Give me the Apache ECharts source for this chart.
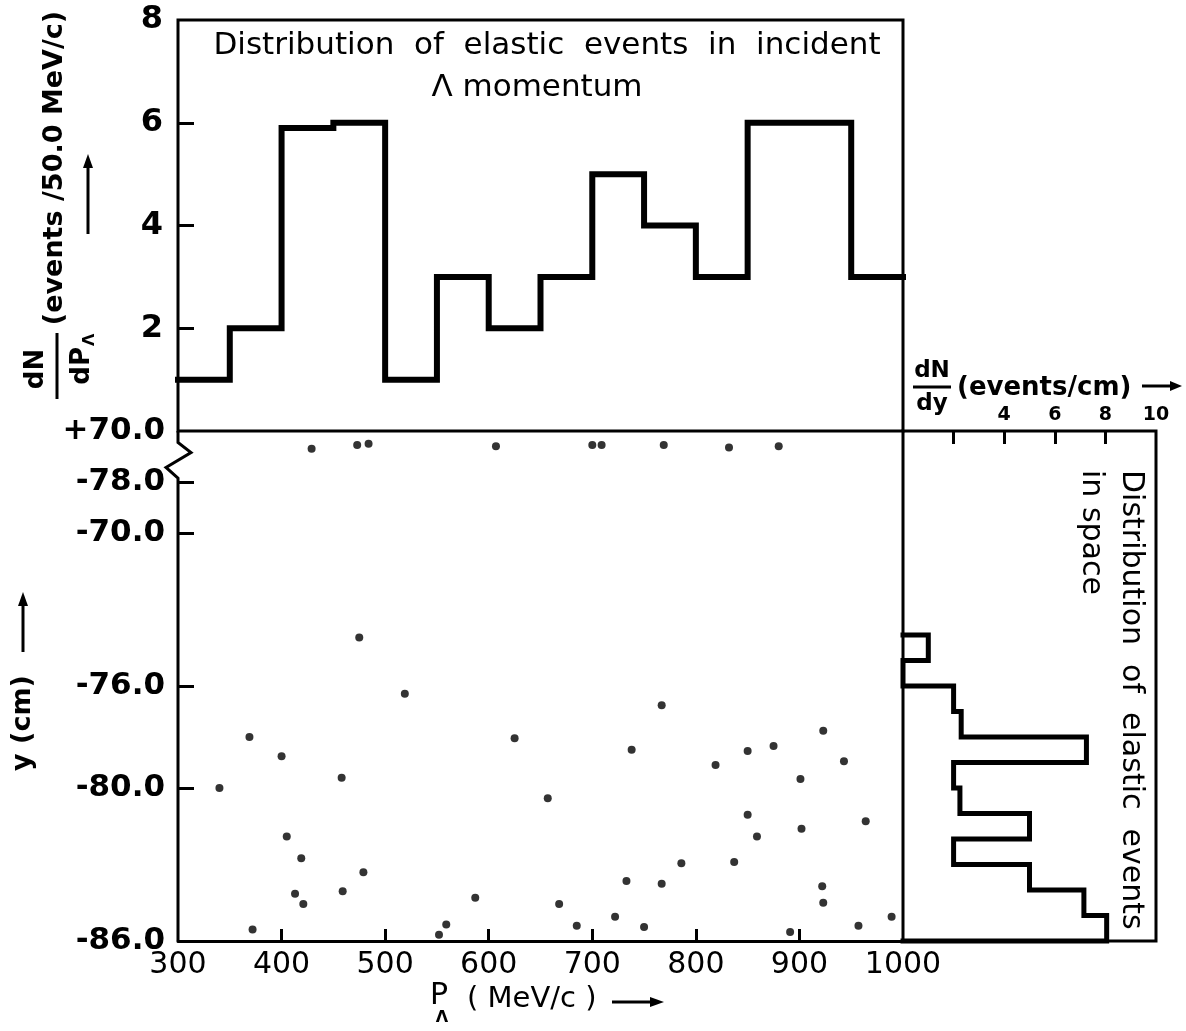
<!DOCTYPE html>
<html>
<head>
<meta charset="utf-8">
<title>Distribution of elastic events</title>
<script src="https://cdn.jsdelivr.net/npm/echarts@6/dist/echarts.min.js"></script>
<style>
  html, body { margin: 0; padding: 0; background: #fff; }
  #chart { width: 1186px; height: 1031px; }
</style>
</head>
<body>
<div id="chart"></div>
<script>
// incident momentum histogram, 50 MeV/c bins
const momentumEdges = [300, 350, 400, 450, 500, 550, 600, 650, 700, 750, 800, 850, 900, 950, 1000];
const momentumCounts = [1, 2, 5.9, 6, 1, 3, 2, 3, 5, 4, 3, 6, 6, 3];

// spatial histogram (events/cm), 1 cm bins going down from -74
const spaceEdges = [-74, -75, -76, -77, -78, -79, -80, -81, -82, -83, -84, -85, -86];
const spaceCounts = [1, 0, 2, 2.3, 7.25, 2, 2.25, 5, 2, 5, 7.15, 8.05];

// single events: momentum (MeV/c) and y (cm, plotted scale; top row sits above the break)
const eventP = [
  429, 473, 484, 607, 700, 709, 769, 832, 880,
  475, 519, 767, 340, 369, 400, 458, 625, 738, 819, 850, 875, 923, 943, 901,
  657, 850, 964, 902, 859, 405, 419, 479, 786, 837, 733, 767, 922, 413, 459,
  421, 587, 668, 923, 722, 989, 372, 559, 552, 685, 750, 891, 957
];
const eventY = [
  -66.7, -66.55, -66.5, -66.6, -66.55, -66.55, -66.55, -66.65, -66.6,
  -74.1, -76.3, -76.75, -80.0, -78.0, -78.75, -79.6, -78.05, -78.5, -79.1, -78.55, -78.35, -77.75, -78.95, -79.65,
  -80.4, -81.05, -81.3, -81.6, -81.9, -81.9, -82.75, -83.3, -82.95, -82.9, -83.65, -83.75, -83.85, -84.15, -84.05,
  -84.55, -84.3, -84.55, -84.5, -85.05, -85.05, -85.55, -85.35, -85.75, -85.4, -85.45, -85.65, -85.4
];

// axis ticks and labels as printed
const pLabels = [300, 400, 500, 600, 700, 800, 900, 1000];
const pTicks = [400, 500, 600, 700, 800, 900];
const rateLabels = [2, 4, 6, 8];
const rateTicks = [2, 4, 6];
const yValues = [-86, -80, -76, -70, -68, -66];
const yLabels = ["-86.0", "-80.0", "-76.0", "-70.0", "-78.0", "+70.0"];
const yTicks = [-80, -76, -70, -68];
const dndyLabels = [4, 6, 8, 10];
const dndyTicks = [2, 4, 6, 8];

const FONT = '"DejaVu Sans", sans-serif';
const INK = "#000";

const momentumLine = [];
momentumCounts.forEach((c, i) => momentumLine.push([momentumEdges[i], c], [momentumEdges[i + 1], c]));

const spaceLine = [[0, spaceEdges[0]]];
spaceCounts.forEach((c, i) => spaceLine.push([c, spaceEdges[i]], [c, spaceEdges[i + 1]]));
spaceLine.push([0, spaceEdges[spaceEdges.length - 1]]);

const events = eventP.map((p, i) => [p, eventY[i]]);

function txt(text, x, y, size, extra, rotation) {
  return {
    type: "text",
    x: x,
    y: y,
    rotation: rotation || 0,
    style: Object.assign({
      text: text,
      fill: INK,
      fontSize: size,
      fontFamily: FONT,
      fontWeight: "normal",
      align: "center",
      verticalAlign: "middle",
      textAlign: "center",
      textVerticalAlign: "middle",
    }, extra || {}),
  };
}

function arrow(x1, y1, x2, y2, head) {
  const dx = x2 - x1, dy = y2 - y1, len = Math.hypot(dx, dy);
  const ux = dx / len, uy = dy / len;
  const hl = head || 14, hw = 5;
  const bx = x2 - ux * hl, by = y2 - uy * hl;
  return [
    { type: "line", shape: { x1: x1, y1: y1, x2: bx, y2: by }, style: { stroke: INK, lineWidth: 3 } },
    {
      type: "polygon",
      shape: { points: [[x2, y2], [bx - uy * hw, by + ux * hw], [bx + uy * hw, by - ux * hw]] },
      style: { fill: INK },
    },
  ];
}

const chart = echarts.init(document.getElementById("chart"));

const tickStyle = { color: INK, width: 3 };
const boldLabel = (size) => ({ color: INK, fontSize: size, fontFamily: FONT, fontWeight: "bold" });

chart.setOption({
  animation: false,
  backgroundColor: "#fff",
  grid: [
    { left: 178, top: 20, width: 725, height: 411, show: true, borderColor: INK, borderWidth: 3, outerBoundsMode: "none" },
    { left: 178, top: 431, width: 725, height: 510, show: false, outerBoundsMode: "none" },
    { left: 903, top: 431, width: 253, height: 510, show: true, borderColor: INK, borderWidth: 3, outerBoundsMode: "none" },
  ],
  xAxis: [
    { gridIndex: 0, type: "value", min: 300, max: 1000, show: false },
    {
      gridIndex: 1, type: "value", min: 300, max: 1000,
      axisLine: { show: true, onZero: false, lineStyle: { color: INK, width: 3 } },
      axisTick: { show: true, inside: true, length: 12, lineStyle: tickStyle, customValues: pTicks },
      axisLabel: {
        customValues: pLabels, color: INK, fontSize: 30, fontFamily: FONT, margin: 9,
        formatter: (v) => String(v),
      },
      splitLine: { show: false },
    },
    {
      gridIndex: 2, type: "value", min: 0, max: 10, position: "top",
      axisLine: { show: false, onZero: false },
      axisTick: { show: true, inside: true, length: 13, lineStyle: tickStyle, customValues: dndyTicks },
      axisLabel: Object.assign({ customValues: dndyLabels, margin: 6 }, boldLabel(19)),
      splitLine: { show: false },
    },
  ],
  yAxis: [
    {
      gridIndex: 0, type: "value", min: 0, max: 8,
      axisLine: { show: false, onZero: false },
      axisTick: { show: true, inside: true, length: 16, lineStyle: tickStyle, customValues: rateTicks },
      axisLabel: Object.assign({ customValues: rateLabels, margin: 15 }, boldLabel(32)),
      splitLine: { show: false },
    },
    {
      gridIndex: 1, type: "value", min: -86, max: -66,
      axisLine: { show: false, onZero: false },
      axisTick: { show: true, inside: true, length: 16, lineStyle: tickStyle, customValues: yTicks },
      axisLabel: Object.assign({
        customValues: yValues,
        margin: 13,
        formatter: (v) => {
          const i = yValues.indexOf(v);
          return i >= 0 ? yLabels[i] : "";
        },
      }, boldLabel(31)),
      splitLine: { show: false },
    },
    { gridIndex: 2, type: "value", min: -86, max: -66, show: false },
  ],
  series: [
    {
      name: "momentum",
      type: "line",
      xAxisIndex: 0, yAxisIndex: 0,
      data: momentumLine,
      symbol: "none",
      clip: false,
      lineStyle: { color: INK, width: 6, join: "miter", cap: "square" },
    },
    {
      name: "space",
      type: "line",
      xAxisIndex: 2, yAxisIndex: 2,
      data: spaceLine,
      symbol: "none",
      clip: false,
      lineStyle: { color: INK, width: 5, join: "miter", cap: "square" },
    },
    {
      name: "events",
      type: "scatter",
      xAxisIndex: 1, yAxisIndex: 1,
      data: events,
      symbol: "circle",
      symbolSize: 8,
      itemStyle: { color: INK },
    },
  ],
});

// left axis of the lower panel with its break mark, placed through the axis scale
const axTop = chart.convertToPixel({ gridIndex: 1 }, [300, -66]);
const axBot = chart.convertToPixel({ gridIndex: 1 }, [300, -86]);
const brA = chart.convertToPixel({ gridIndex: 1 }, [300, -66.45])[1];
const brB = chart.convertToPixel({ gridIndex: 1 }, [300, -67.85])[1];
const ax = axTop[0];
const zig = {
  type: "polyline",
  shape: {
    points: [
      [ax, axTop[1]], [ax, brA], [ax + 13, brA + 10], [ax - 12, brA + 25], [ax, brB], [ax, axBot[1]],
    ],
  },
  style: { stroke: INK, lineWidth: 3, fill: null, lineJoin: "miter" },
};

const R90 = Math.PI / 2;
const graphics = [zig]
  // title in the upper panel
  .concat([
    txt("Distribution  of  elastic  events  in  incident", 547, 46, 31),
    txt("Λ momentum", 537, 88, 31),
  ])
  // dN/dPΛ axis name
  .concat([{
    type: "group",
    x: 57, y: 369, rotation: R90,
    children: [
      txt("dN", 0, -21, 26, { fontWeight: "bold" }),
      { type: "line", shape: { x1: -30, y1: 0, x2: 36, y2: 0 }, style: { stroke: INK, lineWidth: 3 } },
      txt("dP", 22, 25, 26, { fontWeight: "bold", align: "right", textAlign: "right" }),
      txt("Λ", 23, 33, 16, { fontWeight: "bold", align: "left", textAlign: "left" }),
    ],
  }])
  .concat([txt("(events /50.0 MeV/c)", 55, 168, 27, { fontWeight: "bold" }, R90)])
  .concat(arrow(88, 234, 88, 154))
  // y (cm) axis name
  .concat([txt("y (cm)", 23, 723, 27, { fontWeight: "bold" }, R90)])
  .concat(arrow(23, 652, 23, 592))
  // P_Λ axis name
  .concat([
    txt("P", 439, 996, 30),
    txt("Λ", 442, 1018, 16, { fontWeight: "bold" }),
    txt("( MeV/c )", 467, 999, 29, { align: "left", textAlign: "left" }),
  ])
  .concat(arrow(612, 1002, 664, 1002))
  // dN/dy axis name on the right panel
  .concat([
    txt("dN", 932, 371, 23, { fontWeight: "bold" }),
    { type: "line", shape: { x1: 913, y1: 387, x2: 951, y2: 387 }, style: { stroke: INK, lineWidth: 3 } },
    txt("dy", 932, 404, 23, { fontWeight: "bold" }),
    txt("(events/cm)", 957, 388, 26, { fontWeight: "bold", align: "left", textAlign: "left" }),
  ])
  .concat(arrow(1142, 386, 1182, 386, 12))
  // rotated caption of the right panel
  .concat([
    txt("Distribution  of  elastic  events", 1131, 470, 30, { align: "left", textAlign: "left" }, -R90),
    txt("in space", 1091, 470, 30, { align: "left", textAlign: "left" }, -R90),
  ]);

chart.setOption({ graphic: graphics });
</script>
</body>
</html>
